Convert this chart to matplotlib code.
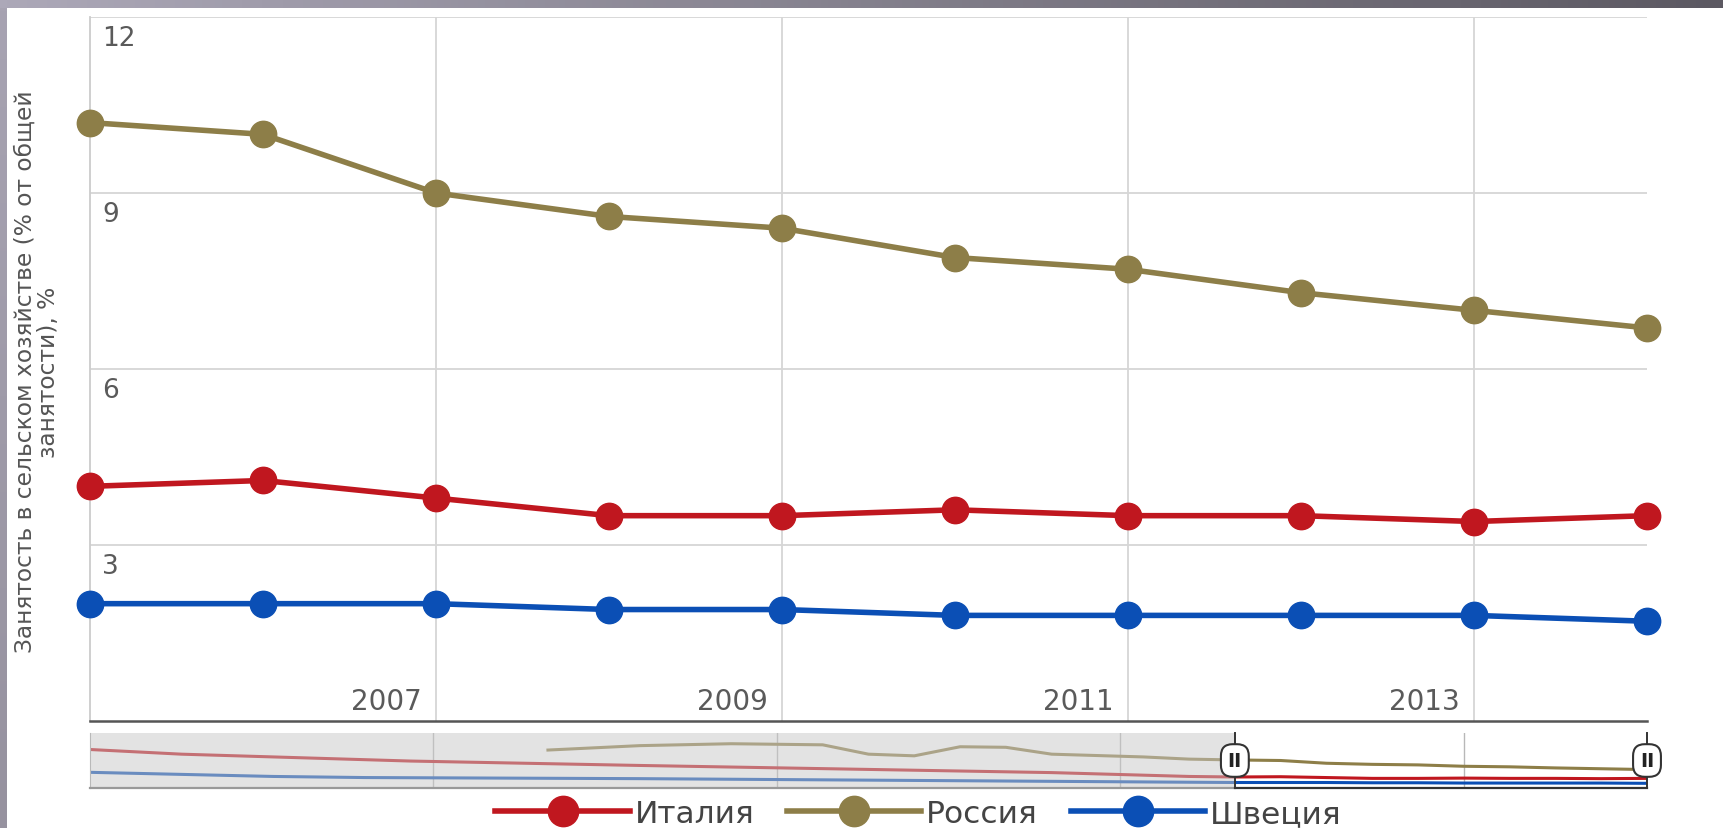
import numpy as np
import matplotlib.pyplot as plt
import matplotlib.transforms as mtransforms
from matplotlib.colors import LinearSegmentedColormap

plt.rcParams['font.family'] = ['DejaVu Sans']

# main chart data (share of agriculture in total employment, %)
years = [2005, 2006, 2007, 2008, 2009, 2010, 2011, 2012, 2013, 2014]
italy = [4.0, 4.1, 3.8, 3.5, 3.5, 3.6, 3.5, 3.5, 3.4, 3.5]
russia = [10.2, 10.0, 9.0, 8.6, 8.4, 7.9, 7.7, 7.3, 7.0, 6.7]
sweden = [2.0, 2.0, 2.0, 1.9, 1.9, 1.8, 1.8, 1.8, 1.8, 1.7]

yticks = [3, 6, 9, 12]
xticks = [2007, 2009, 2011, 2013]

# earlier history shown only in the navigator strip
nav_italy_years = [1980, 1982, 1987, 1992, 2001, 2004]
nav_italy = [14.0, 12.3, 9.8, 8.2, 5.6, 4.2]
nav_sweden_years = [1980, 1984, 1986, 1992, 2004]
nav_sweden = [5.7, 4.2, 3.8, 3.4, 2.1]
nav_russia_years = [1990, 1992, 1994, 1996, 1997, 1998, 1999, 2000, 2001, 2003, 2004]
nav_russia = [13.8, 15.4, 16.1, 15.7, 12.3, 11.7, 15.0, 14.8, 12.3, 11.3, 10.5]
nav_grid = [1987.5, 1995, 2002.5, 2010]
nav_start, nav_end = 1980, 2014

c_italy = '#c0171f'
c_russia = '#8d7e48'
c_sweden = '#0b4fb5'

W, H = 1723, 829
fig = plt.figure(figsize=(W / 100, H / 100), dpi=100)
fig.patch.set_facecolor('white')

# gray frame bits of the slide
top = fig.add_axes([0, 1 - 9 / H, 1, 9 / H])
top.imshow(np.linspace(0, 1, 256)[None, :], aspect='auto',
           cmap=LinearSegmentedColormap.from_list('t', ['#aca8b8', '#5c5962']))
top.axis('off')
left = fig.add_axes([0, 0, 7 / W, 1 - 9 / H])
left.imshow(np.linspace(0, 1, 256)[:, None], aspect='auto',
            cmap=LinearSegmentedColormap.from_list('l', ['#a7a3b2', '#96929f']))
left.axis('off')

# main plot
ax = fig.add_axes([90 / W, 1 - 722 / H, (1647 - 90) / W, (722 - 18) / H])
ax.set_xlim(years[0], years[-1])
ax.set_ylim(0, 12)
for v in yticks:
    ax.axhline(v, color='#d6d6d6', lw=1.3, zorder=1)
for v in xticks:
    ax.axvline(v, color='#d6d6d6', lw=1.3, zorder=1)

lw, ms = 4, 19
l1, = ax.plot(years, italy, '-o', color=c_italy, lw=lw, ms=ms, clip_on=False, zorder=3, label='Италия')
l2, = ax.plot(years, russia, '-o', color=c_russia, lw=lw, ms=ms, clip_on=False, zorder=3, label='Россия')
l3, = ax.plot(years, sweden, '-o', color=c_sweden, lw=lw, ms=ms, clip_on=False, zorder=3, label='Швеция')

ax.set_xticks([])
ax.set_yticks([])
for s in ['top', 'right']:
    ax.spines[s].set_visible(False)
ax.spines['left'].set_color('#cccccc')
ax.spines['left'].set_linewidth(1.3)
ax.spines['bottom'].set_color('#555555')
ax.spines['bottom'].set_linewidth(1.8)

ytr = mtransforms.blended_transform_factory(ax.transAxes, ax.transData)
down = mtransforms.ScaledTranslation(12 / 100, -8 / 100, fig.dpi_scale_trans)
for v in yticks:
    ax.text(0, v, str(v), transform=ytr + down, ha='left', va='top', fontsize=19, color='#5a5a5a')

xtr = mtransforms.blended_transform_factory(ax.transData, ax.transAxes)
up = mtransforms.ScaledTranslation(-14 / 100, 6 / 100, fig.dpi_scale_trans)
for v in xticks:
    ax.text(v, 0, str(v), transform=xtr + up, ha='right', va='bottom', fontsize=20, color='#5a5a5a')

fig.text(37 / W, 1 - 372 / H, 'Занятость в сельском хозяйстве (% от общей\nзанятости), %',
         rotation=90, ha='center', va='center', multialignment='center',
         fontsize=16.8, color='#555555', linespacing=1.05)

# navigator strip
nav = fig.add_axes([90 / W, 1 - 789 / H, (1647 - 90) / W, (789 - 734) / H])
nav.set_xlim(nav_start, nav_end)
nav.set_ylim(0, 20)
for v in nav_grid:
    nav.axvline(v, color='#b8b8b8', lw=1, zorder=1)
nav.plot(nav_italy_years + years, nav_italy + italy, color=c_italy, lw=2.2, zorder=2)
nav.plot(nav_russia_years + years, nav_russia + russia, color=c_russia, lw=2.2, zorder=2)
nav.plot(nav_sweden_years + years, nav_sweden + sweden, color=c_sweden, lw=2.2, zorder=2)
nav.axvspan(nav_start, years[0], color='#c9c9c9', alpha=0.5, lw=0, zorder=3)
nav.plot([nav_start, years[0]], [0, 0], color='#999999', lw=1.6, clip_on=False, zorder=4)
nav.plot([years[0], years[-1]], [0, 0], color='#333333', lw=1.6, clip_on=False, zorder=4)
nav.set_xticks([])
nav.set_yticks([])
for s in ['top', 'right', 'bottom']:
    nav.spines[s].set_visible(False)
nav.spines['left'].set_color('#aaaaaa')
for xv in (years[0], years[-1]):
    nav.plot([xv, xv], [0, 20], color='#333333', lw=1.4, clip_on=False, zorder=5)
    nav.text(xv, 10, 'II', ha='center', va='center', fontsize=14, fontweight='bold', color='#222222',
             zorder=6, bbox=dict(boxstyle='round,pad=0.35,rounding_size=0.6', fc='white', ec='#333333', lw=1.5))

fig.legend([l1, l2, l3], ['Италия', 'Россия', 'Швеция'], loc='center', bbox_to_anchor=(0.533, 0.017),
           ncol=3, frameon=False, fontsize=22.5, handlelength=4.3, handletextpad=0.15,
           columnspacing=1.05, borderpad=0, markerscale=1.15, labelcolor='#444444')

fig.savefig('out.png', dpi=100)
